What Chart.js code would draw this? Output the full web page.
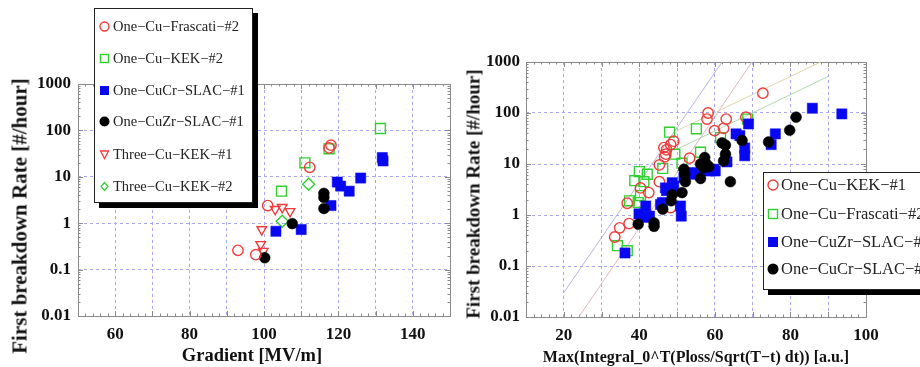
<!DOCTYPE html>
<html>
<head>
<meta charset="utf-8">
<script src="https://cdn.jsdelivr.net/npm/chart.js@4.4.1/dist/chart.umd.min.js"></script>
<style>
html, body { margin:0; padding:0; background:#fff; width:920px; height:367px; overflow:hidden; }
.panel { position:absolute; top:0; width:460px; height:367px; }
#leftWrap { left:0; }
#rightWrap { left:460px; }
.legend { position:absolute; background:#fff; border:1px solid #222; box-shadow:5px 5px 0 #000;
  font-family:'Liberation Serif', 'DejaVu Serif', serif; color:#222; white-space:nowrap; }
.legend .row { position:absolute; left:0; height:20px; line-height:20px; }
.legend svg { position:absolute; top:0; }
.legend span { position:absolute; top:0; }
.atitle { position:absolute; font-family:'Liberation Serif', serif; font-weight:bold; color:#111;
  white-space:nowrap; line-height:1; transform:translate(-50%, -50%); }
.atitle.rot { transform:translate(-50%, -50%) rotate(-90deg); }
</style>
</head>
<body>
<div class="panel" id="leftWrap"><canvas id="leftChart" width="460" height="367"></canvas></div>
<div class="panel" id="rightWrap"><canvas id="rightChart" width="460" height="367"></canvas></div>
<div class="atitle" id="leftXTitle" style="left:252px;top:355px;font-size:18.5px"></div>
<div class="atitle rot" id="leftYTitle" style="left:20px;top:216px;font-size:21px"></div>
<div class="atitle" id="rightXTitle" style="left:696px;top:357px;font-size:16px"></div>
<div class="atitle rot" id="rightYTitle" style="left:473px;top:194px;font-size:19px"></div>
<div class="legend" id="leftLegend" style="left:94px;top:8px;width:157px;height:193px;font-size:14.5px"></div>
<div class="legend" id="rightLegend" style="left:763px;top:172px;width:180px;height:116px;font-size:16.5px"></div>
<script>
// ---- colours
const RED = '#f03c3c', GREEN = '#30d030', BLUE = '#0808f0', BLACK = '#000';
const GRID = '#a8a8f4';

// ---- shared y axis (log)
const rateTicks = [0.01, 0.1, 1, 10, 100, 1000];
const rateTitle = 'First breakdown Rate [#/hour]';

// ---- left panel: rate vs gradient
const gradGrid = [50, 60, 70, 80, 90, 100, 110, 120, 130, 140, 150];
const gradLabels = [60, 80, 100, 120, 140];
const gradTitle = 'Gradient [MV/m]';

const oneCuFrascati2 = [[93,0.26],[97.8,0.21],[101,2.4],[112.3,16],[117.5,42],[118,48]];
const oneCuKek2 = [[104.7,4.9],[111,20],[117.5,40],[131.3,110]];
const oneCuCrSlac1 = [[103.2,0.67],[110,0.73],[118,2.4],[119.7,7.7],[120.6,6.3],[122.9,4.9],[126,9.4],[131.8,26],[132,22]];
const oneCuZrSlac1 = [[100.2,0.18],[107.6,0.98],[116.1,2.07],[116.1,3.6],[116.1,4.4]];
const threeCuKek1 = [[99.8,0.25],[99.1,0.35],[99.4,0.73],[103,2.0],[104.9,2.2],[107,1.8]];
const threeCuKek2 = [[104.9,1.1],[112,6.9]];

// ---- right panel: rate vs max integral
const intGrid = [10, 20, 30, 40, 50, 60, 70, 80, 90, 100];
const intLabels = [20, 40, 60, 80, 100];
const intTitle = 'Max(Integral_0^T(Ploss/Sqrt(T\u2212t) dt)) [a.u.]';

const oneCuKek1R = [[33.5,0.37],[34.8,0.56],[37.3,0.68],[36.8,1.7],[40.3,3.4],[42.5,2.75],[45.3,4.5],[48.3,1.4],
  [45.3,9.6],[46.7,13.9],[47,15.6],[46.5,21],[47.2,19],[48.3,24],[49.1,28],[53.3,13],[59.9,45],[62.3,50],
  [63,76],[57.9,76],[58.2,100],[68.2,83],[72.7,245]];
const oneCuFrascati2R = [[34.2,0.25],[36.8,0.2],[37.4,1.9],[39.7,1.75],[40.3,2.4],[38.8,4.7],[41.2,4.5],[40,7.1],
  [42.1,6.3],[46.2,8.2],[51.3,10.4],[49.4,15.6],[56.2,17],[48,42],[55.1,49],[61.5,33],[68.7,76]];
const oneCuZrSlac1R = [[36.2,0.18],[39.9,1.05],[41.7,1.5],[42.7,0.95],[41.7,0.9],[45.6,1.6],[46.1,1.75],[47.2,3.0],
  [48.7,4.3],[49.1,3.7],[46.9,3.4],[50.9,1.5],[51.1,0.95],[51.8,5.4],[54,6.3],[54.4,6.8],[57,7.9],[58.4,7.3],
  [59.7,7.9],[60.1,7.3],[63.2,11],[65.6,39],[66.6,36],[67.9,20.6],[67.9,14.5],[68.9,61],[74.9,24],[76,39],
  [85.8,124],[93.6,96]];
const oneCuCrSlac1R = [[39.7,0.66],[43.9,0.7],[43.9,0.6],[46.2,1.3],[48.4,1.9],[48.7,2.5],[51.3,2.75],[52.2,4.5],
  [51.8,7.9],[52,6.3],[56.2,5.2],[56.2,10],[57.7,10],[57.3,13.4],[58.4,8.9],[57,8.5],[62.3,11.5],[62.8,15.6],
  [62.8,23.5],[61.9,26],[64.1,4.5],[67.2,29],[74.2,27],[79.8,46],[81.5,83]];

// thin guide lines (end points)
const guidePurple = [[20,0.03],[61.9,1000]];
const guidePink = [[24,0.01],[69.8,1000]];
const guideOlive = [[50,45],[88,1000]];
const guideGreen = [[50,19.6],[90,520]];

const pts = arr => arr.map(([x, y]) => ({x, y}));

function markerSet(label, data, style, color, filled, radius, extra) {
  return Object.assign({
    label, data: pts(data), pointStyle: style, pointRadius: radius, pointHoverRadius: radius,
    borderColor: color, backgroundColor: filled ? color : 'rgba(0,0,0,0)',
    pointBorderWidth: filled ? 0.5 : 1.4, showLine: false
  }, extra || {});
}
function guideSet(data, color) {
  return { data: pts(data), showLine: true, pointRadius: 0, borderColor: color, borderWidth: 0.9, order: 10 };
}

// frame + inward frame ticks drawn with the chart's own scales
const framePlugin = {
  id: 'frame',
  beforeDatasetsDraw(chart) {
    const {ctx, chartArea: a, scales: {x, y}} = chart;
    ctx.save();
    ctx.strokeStyle = '#8a8a8a';
    ctx.lineWidth = 1;
    ctx.beginPath();
    x.ticks.forEach(t => {
      const px = Math.round(x.getPixelForValue(t.value)) + 0.5;
      ctx.moveTo(px, a.bottom); ctx.lineTo(px, a.bottom - 5);
      ctx.moveTo(px, a.top); ctx.lineTo(px, a.top + 5);
      for (let k = 2; k < 10; k += 2) {
        const v = t.value + k;
        if (v >= x.max) continue;
        const q = Math.round(x.getPixelForValue(v)) + 0.5;
        ctx.moveTo(q, a.bottom); ctx.lineTo(q, a.bottom - 2.5);
        ctx.moveTo(q, a.top); ctx.lineTo(q, a.top + 2.5);
      }
    });
    rateTicks.forEach(d => {
      for (let m = 1; m < 10; m++) {
        const v = d * m;
        if (v > y.max) continue;
        const py = Math.round(y.getPixelForValue(v)) + 0.5;
        const len = m === 1 ? 5 : 2.5;
        ctx.moveTo(a.left, py); ctx.lineTo(a.left + len, py);
        ctx.moveTo(a.right, py); ctx.lineTo(a.right - len, py);
      }
    });
    ctx.stroke();
    ctx.strokeRect(Math.round(a.left) + 0.5, Math.round(a.top) + 0.5, Math.round(a.right - a.left), Math.round(a.bottom - a.top));
    ctx.restore();
  }
};

function makeChart(id, datasets, cfg) {
  const tickFont = { family: "'Liberation Serif', serif", weight: 'bold', size: cfg.tickSize };
  return new Chart(document.getElementById(id), {
    type: 'scatter',
    data: { datasets },
    plugins: [framePlugin],
    options: {
      responsive: false, animation: false, events: [],
      layout: { padding: { top: cfg.top, right: cfg.right, left: 0, bottom: 0 } },
      plugins: { legend: { display: false }, tooltip: { enabled: false } },
      scales: {
        x: {
          type: 'linear', min: cfg.xGrid[0], max: cfg.xGrid[cfg.xGrid.length - 1],
          afterBuildTicks: s => { s.ticks = cfg.xGrid.map(v => ({ value: v })); },
          afterFit: s => { s.height = cfg.xH; },
          ticks: { autoSkip: false, maxRotation: 0, font: tickFont, color: '#111', padding: cfg.xPad,
            callback: v => cfg.xLabels.includes(v) ? String(v) : '' },
          grid: { color: GRID, lineWidth: 1, drawTicks: false },
          border: { display: false, dash: [3, 3] },
          title: { display: false }
        },
        y: {
          type: 'logarithmic', min: 0.01, max: 1000,
          afterBuildTicks: s => { s.ticks = rateTicks.map(v => ({ value: v })); },
          afterFit: s => { s.width = cfg.yW; },
          ticks: { autoSkip: false, font: tickFont, color: '#111', padding: cfg.yPad, callback: v => String(v) },
          grid: { color: GRID, lineWidth: 1, drawTicks: false },
          border: { display: false, dash: [3, 3] },
          title: { display: false }
        }
      }
    }
  });
}

makeChart('leftChart', [
  markerSet('One\u2212Cu\u2212Frascati\u2212#2', oneCuFrascati2, 'circle', RED, false, 5.2),
  markerSet('One\u2212Cu\u2212KEK\u2212#2', oneCuKek2, 'rect', GREEN, false, 7),
  markerSet('One\u2212CuZr\u2212SLAC\u2212#1', oneCuZrSlac1, 'circle', BLACK, true, 5.4),
  markerSet('One\u2212CuCr\u2212SLAC\u2212#1', oneCuCrSlac1, 'rect', BLUE, true, 7.2),
  markerSet('Three\u2212Cu\u2212KEK\u2212#1', threeCuKek1, 'triangle', RED, false, 5.5, { rotation: 180 }),
  markerSet('Three\u2212Cu\u2212KEK\u2212#2', threeCuKek2, 'rectRot', GREEN, false, 6)
], { top: 84, right: 10, xH: 51, yW: 78, xGrid: gradGrid, xLabels: gradLabels,
     tickSize: 17, xPad: 8, yPad: 7 });

makeChart('rightChart', [
  markerSet('One\u2212CuCr\u2212SLAC\u2212#1', oneCuCrSlac1R, 'circle', BLACK, true, 5.4),
  markerSet('One\u2212CuZr\u2212SLAC\u2212#1', oneCuZrSlac1R, 'rect', BLUE, true, 7.2),
  markerSet('One\u2212Cu\u2212KEK\u2212#1', oneCuKek1R, 'circle', RED, false, 5.2),
  markerSet('One\u2212Cu\u2212Frascati\u2212#2', oneCuFrascati2R, 'rect', GREEN, false, 7),
  guideSet(guidePurple, '#b4acd8'),
  guideSet(guidePink, '#e0b0b0'),
  guideSet(guideOlive, '#d8d2a4'),
  guideSet(guideGreen, '#a8d4a8')
], { top: 62, right: 54, xH: 50, yW: 66, xGrid: intGrid, xLabels: intLabels,
     tickSize: 17, xPad: 8, yPad: 6 });

// ---- axis titles as HTML text
document.getElementById('leftXTitle').textContent = gradTitle;
document.getElementById('leftYTitle').textContent = rateTitle;
document.getElementById('rightXTitle').textContent = intTitle;
document.getElementById('rightYTitle').textContent = rateTitle;

// ---- HTML legends (boxes overlap the plots as in the original)
function marker(kind, color, s) {
  const c = s / 2, r = s / 2 - 1;
  let shape = '';
  if (kind === 'circle') shape = `<circle cx="${c}" cy="${c}" r="${r}" fill="none" stroke="${color}" stroke-width="1.4"/>`;
  if (kind === 'disc') shape = `<circle cx="${c}" cy="${c}" r="${r + 0.5}" fill="${color}"/>`;
  if (kind === 'square') shape = `<rect x="1.5" y="1.5" width="${s - 3}" height="${s - 3}" fill="none" stroke="${color}" stroke-width="1.4"/>`;
  if (kind === 'block') shape = `<rect x="1" y="1" width="${s - 2}" height="${s - 2}" fill="${color}"/>`;
  if (kind === 'tri') shape = `<polygon points="1.5,2 ${s - 1.5},2 ${c},${s - 1.5}" fill="none" stroke="${color}" stroke-width="1.3"/>`;
  if (kind === 'diamond') shape = `<polygon points="${c},1.5 ${s - 2},${c} ${c},${s - 1.5} 2,${c}" fill="none" stroke="${color}" stroke-width="1.2"/>`;
  return `<svg width="${s}" height="${s}" viewBox="0 0 ${s} ${s}">${shape}</svg>`;
}
function buildLegend(id, items, rows, mx, tx, s) {
  const box = document.getElementById(id);
  items.forEach(([kind, color, text], i) => {
    const row = document.createElement('div');
    row.className = 'row';
    row.style.top = (rows[i] - 10) + 'px';
    row.innerHTML = marker(kind, color, s).replace('<svg ', `<svg style="left:${mx - s / 2}px;top:${10 - s / 2}px" `) +
      `<span style="left:${tx}px">${text}</span>`;
    box.appendChild(row);
  });
}
buildLegend('leftLegend', [
  ['circle', RED, 'One\u2212Cu\u2212Frascati\u2212#2'],
  ['square', GREEN, 'One\u2212Cu\u2212KEK\u2212#2'],
  ['block', BLUE, 'One\u2212CuCr\u2212SLAC\u2212#1'],
  ['disc', BLACK, 'One\u2212CuZr\u2212SLAC\u2212#1'],
  ['tri', RED, 'Three\u2212Cu\u2212KEK\u2212#1'],
  ['diamond', GREEN, 'Three\u2212Cu\u2212KEK\u2212#2']
], [17, 49, 81, 112, 145, 177], 9, 18, 11);
buildLegend('rightLegend', [
  ['circle', RED, 'One\u2212Cu\u2212KEK\u2212#1'],
  ['square', GREEN, 'One\u2212Cu\u2212Frascati\u2212#2'],
  ['block', BLUE, 'One\u2212CuZr\u2212SLAC\u2212#1'],
  ['disc', BLACK, 'One\u2212CuCr\u2212SLAC\u2212#1']
], [12, 41, 69, 96], 9, 17, 12);
</script>
</body>
</html>
